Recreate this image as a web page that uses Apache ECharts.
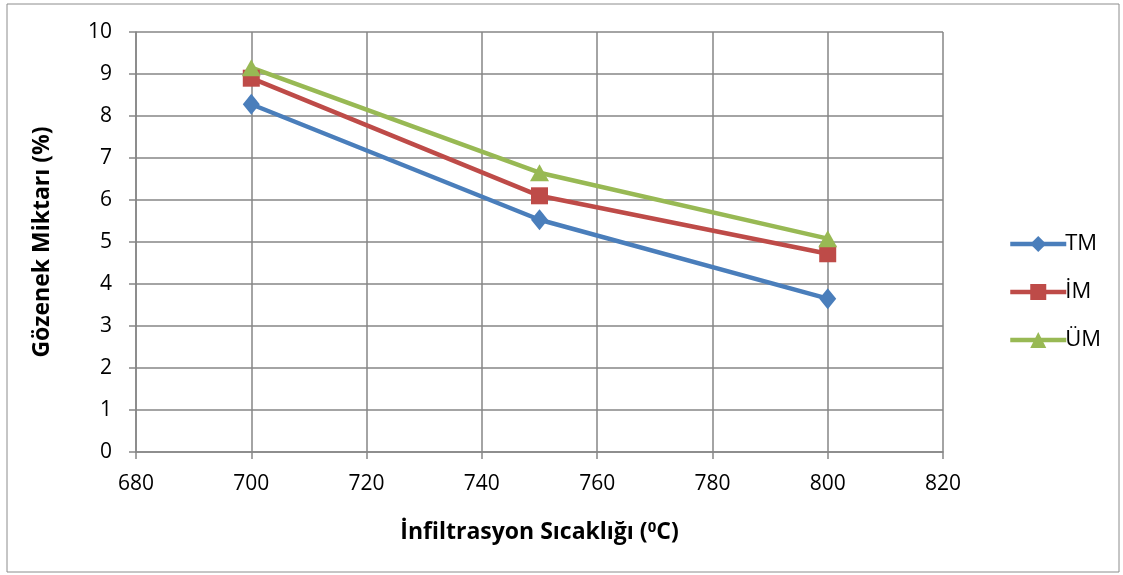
<!DOCTYPE html>
<html><head><meta charset="utf-8">
<script src="https://cdn.jsdelivr.net/npm/echarts@6/dist/echarts.min.js"></script>
<style>html,body{margin:0;padding:0;background:#fff}#c{width:1123px;height:575px}</style>
</head><body><div id="c"></div>
<script>
const temps = [700, 750, 800];
const seriesNames = ['TM', 'İM', 'ÜM'];
const tmValues = [8.28, 5.53, 3.65];
const imValues = [8.9, 6.1, 4.72];
const umValues = [9.15, 6.65, 5.08];
const colors = ['#4a7ebb', '#be4b48', '#98b954'];
const symbols = ['diamond', 'rect', 'triangle'];
const symbolSizes = [[17, 21], [17, 17], [19, 17]];
const allValues = [tmValues, imValues, umValues];

const chart = echarts.init(document.getElementById('c'));
const font = '"Open Sans", Lato, sans-serif';
chart.setOption({
  animation: false,
  graphic: [{type: 'rect', shape: {x: 7, y: 4, width: 1112, height: 568}, style: {fill: 'none', stroke: '#8c8c8c', lineWidth: 1}, z: -1}],
  grid: {left: 136, right: 180, top: 32, bottom: 123},
  xAxis: {
    type: 'value', min: 680, max: 820, interval: 20,
    name: '{a|İnfiltrasyon Sıcaklığı (}{s|0}{a|C)}',
    nameLocation: 'middle', nameGap: 68,
    nameTextStyle: {rich: {a: {fontFamily: font, fontSize: 23, fontWeight: 'bold', color: '#000'}, s: {fontFamily: font, fontSize: 15, fontWeight: 'bold', color: '#000', verticalAlign: 'top', padding: [0, 0, 9, 0]}}},
    axisLine: {lineStyle: {color: '#868686', width: 1.5}},
    axisTick: {show: true, length: 7, lineStyle: {color: '#868686', width: 1.5}},
    axisLabel: {fontFamily: font, fontSize: 21, color: '#000', margin: 22},
    splitLine: {show: true, lineStyle: {color: '#868686', width: 1.5}}
  },
  yAxis: {
    type: 'value', min: 0, max: 10, interval: 1,
    name: 'Gözenek Miktarı (%)', nameLocation: 'middle', nameGap: 82,
    nameTextStyle: {fontFamily: font, fontSize: 23, fontWeight: 'bold', color: '#000'},
    axisLine: {show: true, lineStyle: {color: '#868686', width: 1.5}},
    axisTick: {show: true, length: 7, lineStyle: {color: '#868686', width: 1.5}},
    axisLabel: {fontFamily: font, fontSize: 21, color: '#000', margin: 24},
    splitLine: {show: true, lineStyle: {color: '#868686', width: 1.5}}
  },
  legend: {
    orient: 'vertical', left: 1003, top: 228, itemGap: 26, itemWidth: 56, itemHeight: 20,
    textStyle: {fontFamily: font, fontSize: 22, color: '#000', padding: [0, 0, 0, -6]},
    lineStyle: {width: 4.5},
    data: seriesNames
  },
  series: seriesNames.map((n, i) => ({
    name: n, type: 'line',
    data: temps.map((t, j) => [t, allValues[i][j]]),
    symbol: symbols[i], symbolSize: symbolSizes[i],
    lineStyle: {color: colors[i], width: 4.5},
    itemStyle: {color: colors[i]}
  }))
});
</script></body></html>
